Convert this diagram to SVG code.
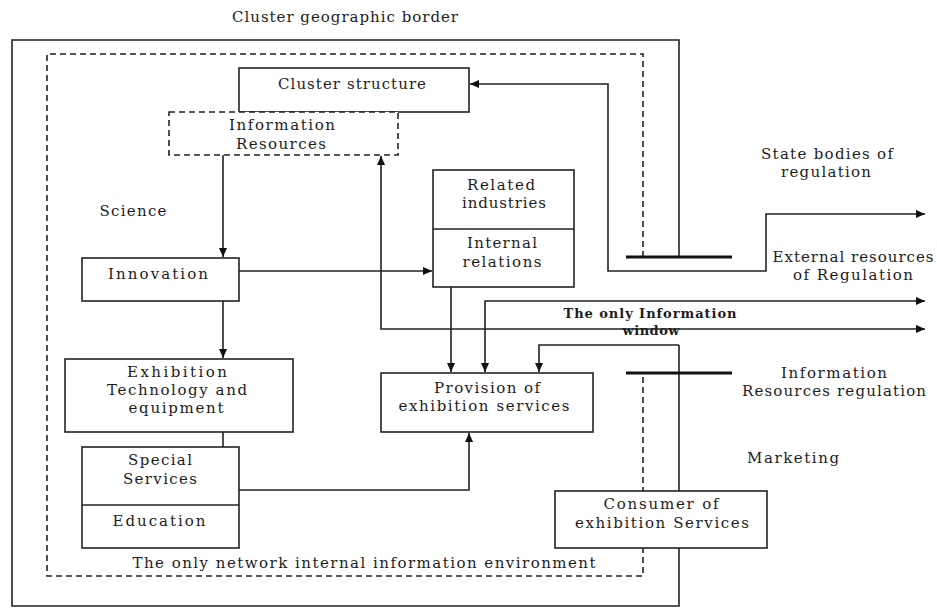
<svg xmlns="http://www.w3.org/2000/svg" width="937" height="609" viewBox="0 0 937 609">
<style>
.t{font-family:"DejaVu Serif","Liberation Serif",serif;font-size:15px;fill:#1c1c1c;text-anchor:middle}
.b{font-weight:bold;font-size:13px}
.bx{fill:#fff;stroke:#222;stroke-width:1.6}
.dbx{fill:#fff;stroke:#222;stroke-width:1.6;stroke-dasharray:6 4}
.ln{fill:none;stroke:#222;stroke-width:1.6}
.dl{fill:none;stroke:#222;stroke-width:1.6;stroke-dasharray:6 4}
.tb{fill:none;stroke:#111;stroke-width:3}
</style>
<defs>
<marker id="ah" viewBox="0 0 10 10" refX="10" refY="5" markerWidth="10" markerHeight="9" markerUnits="userSpaceOnUse" orient="auto-start-reverse"><path d="M0,0.5 L10,5 L0,9.5 z" fill="#111"/></marker>
</defs>
<rect width="937" height="609" fill="#fff"/>
<g id="borders">
<path class="ln" d="M679,257 V40 H12 V606 H679 V345"/>
<path class="dl" d="M643,257 V54 H47 V576 H643 V373"/>
<path class="tb" d="M626,257 H732 M626,373 H732"/>
</g>
<g id="labels">
<text class="t" x="345" y="22" textLength="226">Cluster geographic border</text>
<text class="t" x="827" y="159" textLength="132">State bodies of</text>
<text class="t" x="826" y="177" textLength="90">regulation</text>
<text class="t" x="133" y="216" textLength="67">Science</text>
<text class="t" x="853" y="262" textLength="161">External resources</text>
<text class="t" x="853" y="280" textLength="120">of Regulation</text>
<text class="t" x="834" y="378" textLength="106">Information</text>
<text class="t" x="834" y="396" textLength="184">Resources regulation</text>
<text class="t" x="793" y="463" textLength="92">Marketing</text>
<text class="t" x="364" y="568" textLength="463">The only network internal information environment</text>
</g>
<g id="connectors">
<path class="ln" d="M223,155 V257" marker-end="url(#ah)"/>
<path class="ln" d="M239,271 H432" marker-end="url(#ah)"/>
<path class="ln" d="M223,301 V358" marker-end="url(#ah)"/>
<path class="ln" d="M223,432 V447"/>
<path class="ln" d="M239,490 H469 V433" marker-end="url(#ah)"/>
<path class="ln" d="M451,287 V372" marker-end="url(#ah)"/>
<path class="ln" d="M470,84 H608 V271 H766 V214 H925" marker-start="url(#ah)" marker-end="url(#ah)"/>
<path class="ln" d="M485,372 V301 H925" marker-start="url(#ah)" marker-end="url(#ah)"/>
<path class="ln" d="M679,345 H539 V372" marker-end="url(#ah)"/>
</g>
<g id="window-label">
<text class="t b" x="650" y="318" textLength="173">The only Information</text>
<text class="t b" x="651" y="335" textLength="57">window</text>
</g>
<g id="window-connector">
<path class="ln" d="M381,156 V329 H925" marker-start="url(#ah)" marker-end="url(#ah)"/>
</g>
<g id="cluster-structure">
<rect class="bx" x="239" y="68" width="230" height="44"/>
<text class="t" x="352" y="89" textLength="148">Cluster structure</text>
</g>
<g id="information-resources">
<rect class="dbx" x="169" y="112" width="229" height="43"/>
<text class="t" x="282" y="130" textLength="106">Information</text>
<text class="t" x="281" y="149" textLength="90">Resources</text>
</g>
<g id="related-industries">
<rect class="bx" x="433" y="170" width="141" height="117"/>
<line class="ln" x1="433" y1="229" x2="574" y2="229"/>
<text class="t" x="501" y="190" textLength="68">Related</text>
<text class="t" x="504" y="208" textLength="84">industries</text>
<text class="t" x="502" y="248" textLength="70">Internal</text>
<text class="t" x="502" y="267" textLength="79">relations</text>
</g>
<g id="innovation">
<rect class="bx" x="82" y="258" width="157" height="43"/>
<text class="t" x="158" y="279" textLength="100">Innovation</text>
</g>
<g id="exhibition-technology">
<rect class="bx" x="65" y="359" width="228" height="73"/>
<text class="t" x="177" y="377" textLength="100">Exhibition</text>
<text class="t" x="177" y="395" textLength="140">Technology and</text>
<text class="t" x="176" y="413" textLength="95">equipment</text>
</g>
<g id="provision">
<rect class="bx" x="381" y="373" width="212" height="59"/>
<text class="t" x="487" y="393" textLength="106">Provision of</text>
<text class="t" x="484" y="411" textLength="171">exhibition services</text>
</g>
<g id="special-services">
<rect class="bx" x="82" y="447" width="157" height="101"/>
<line class="ln" x1="82" y1="505" x2="239" y2="505"/>
<text class="t" x="160" y="465" textLength="64">Special</text>
<text class="t" x="160" y="484" textLength="74">Services</text>
<text class="t" x="159" y="526" textLength="93">Education</text>
</g>
<g id="consumer">
<rect class="bx" x="555" y="491" width="212" height="57"/>
<text class="t" x="661" y="509" textLength="115">Consumer of</text>
<text class="t" x="662" y="528" textLength="174">exhibition Services</text>
</g>
</svg>
